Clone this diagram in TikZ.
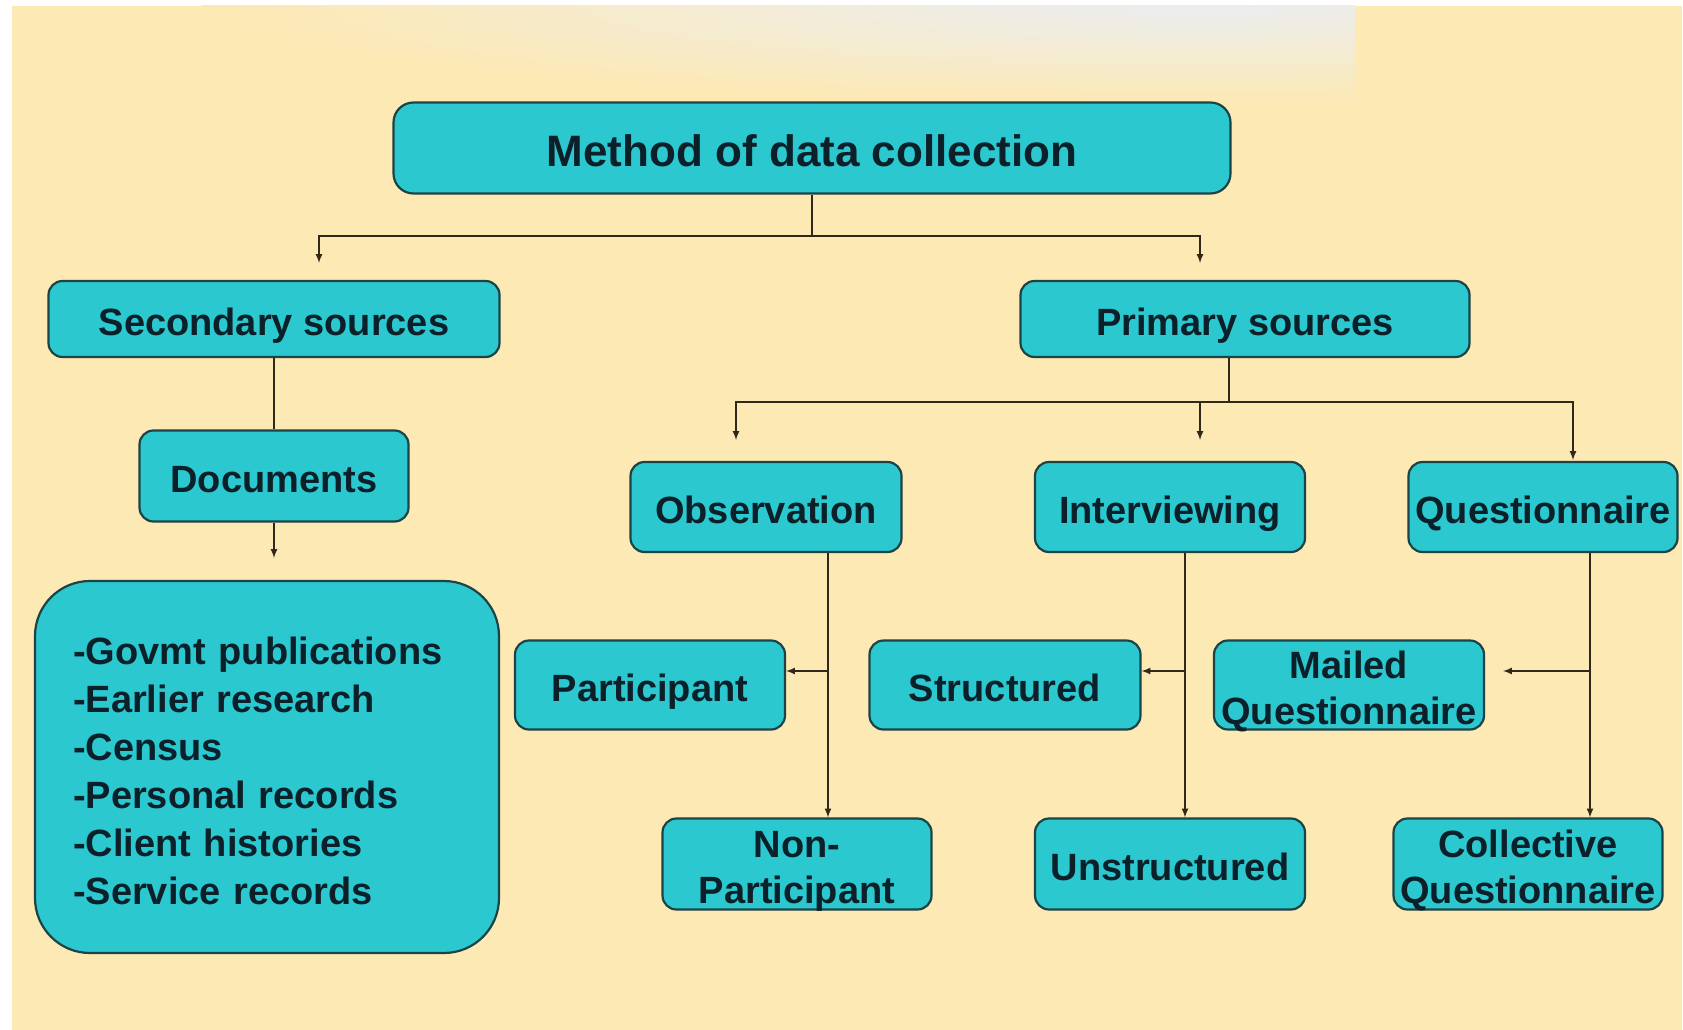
\documentclass[tikz,border=0pt]{standalone}
\usepackage{fontspec}
\setmainfont{Liberation Sans}
\usetikzlibrary{positioning,arrows}

\definecolor{paper}{RGB}{253,233,180}
\definecolor{haze}{RGB}{234,237,242}
\definecolor{boxfill}{RGB}{44,200,208}
\definecolor{boxline}{RGB}{28,68,70}
\definecolor{ink}{RGB}{12,32,42}
\definecolor{wire}{RGB}{48,40,26}

\begin{document}
\begin{tikzpicture}[
x=1pt,y=-1pt,
box/.style={
  draw=boxline,
  line width=2.2pt,
  fill=boxfill,
  rounded corners=14pt,
  text=ink,
  font=\fontsize{38}{46}\selectfont\bfseries,
  minimum width=270pt,
  minimum height=90pt,
  inner sep=0pt,
  align=center
  },
oneline/.style={
  text height=33pt,
  text depth=0pt
  },
wire/.style={
  draw=wire,
  line width=2pt
  },
>=latex
]
\useasboundingbox (0,0) rectangle (1683,1030);
% paper
\fill[white] (0,0) rectangle (1683,1030);
\fill[paper] (12,6) rectangle (1682,1030);
\begin{scope}
\clip (12,6) rectangle (1355,200);
\shade[inner color=haze, outer color=paper] (1200,0) ellipse [x radius=1000, y radius=105];
\end{scope}

% top level
\node[box, minimum width=837pt, minimum height=91pt, rounded corners=20pt,
  font=\fontsize{44}{50}\selectfont\bfseries, text height=37pt, text depth=0pt] (root) at (812,148) {Method of data collection};
\node[box, oneline, minimum width=451pt, minimum height=76pt] (sec) at (274,319) {Secondary sources};
\node[box, oneline, minimum width=449pt, minimum height=76pt] (pri) at (1245,319) {Primary sources};

% secondary side
\node[box, oneline, minimum width=269pt, minimum height=91pt] (docs) at (274,476) {Documents};
\node[box, rounded corners=55pt, align=left, text width=388pt, inner xsep=38pt,
  minimum height=372pt, font=\fontsize{38}{48}\selectfont\bfseries] (list) at (267,767)
  {\rule{0pt}{35pt}-Govmt publications\\-Earlier research\\-Census\\-Personal records\\-Client histories\\-Service records};

% primary side
\node[box, oneline, minimum width=271pt] (obs) at (766,507) {Observation};
\node[box, oneline] (intv) at (1170,507) {Interviewing};
\node[box, oneline, minimum width=269pt] (que) at (1543,507) {Questionnaire};

\node[box, oneline, minimum height=89pt] (part) at (650,685) {Participant};
\node[box, oneline, minimum width=271pt, minimum height=89pt] (struc) at (1005,685) {Structured};
\node[box, minimum height=89pt] (mail) at (1349,685) {\rule{0pt}{33pt}Mailed\\\smash{Questionnaire}};

\node[box, minimum width=269pt, minimum height=91pt] (nonp) at (797,864) {\rule{0pt}{33pt}Non-\\\smash{Participant}};
\node[box, oneline, minimum height=91pt] (unst) at (1170,864) {Unstructured};
\node[box, minimum width=269pt, minimum height=91pt] (coll) at (1528,864) {\rule{0pt}{33pt}Collective\\\smash{Questionnaire}};

% connector points
\coordinate (split1) at (812,236);
\coordinate (secin) at (319,263);
\coordinate (priin) at (1200,263);
\coordinate (listin) at (274,558);
\coordinate (split2) at (1229,402);
\coordinate (obsin) at (736,440);
\coordinate (intin) at (1200,440);
\coordinate (quein) at (1573,460);
\coordinate (obsfork) at (828,671);
\coordinate (intfork) at (1185,671);
\coordinate (quefork) at (1590,671);
\coordinate (mailin) at (1503,671);

% connectors
\draw[wire] (root.south) -- (split1);
\draw[wire,->] (split1) -| (secin);
\draw[wire,->] (split1) -| (priin);
\draw[wire] (sec) -- (docs);
\draw[wire,->] (docs.south) -- (listin);

\draw[wire] (pri.south -| split2) -- (split2);
\draw[wire,->] (split2) -| (obsin);
\draw[wire,->] (split2) -| (intin);
\draw[wire,->] (split2) -| (quein);

\draw[wire,->] (obs.south -| obsfork) -- (obsfork |- nonp.north);
\draw[wire,->] (obsfork) -- (part.east |- obsfork);
\draw[wire,->] (intv.south -| intfork) -- (intfork |- unst.north);
\draw[wire,->] (intfork) -- (struc.east |- intfork);
\draw[wire,->] (que.south -| quefork) -- (quefork |- coll.north);
\draw[wire,->] (quefork) -- (mailin);

\end{tikzpicture}
\end{document}
